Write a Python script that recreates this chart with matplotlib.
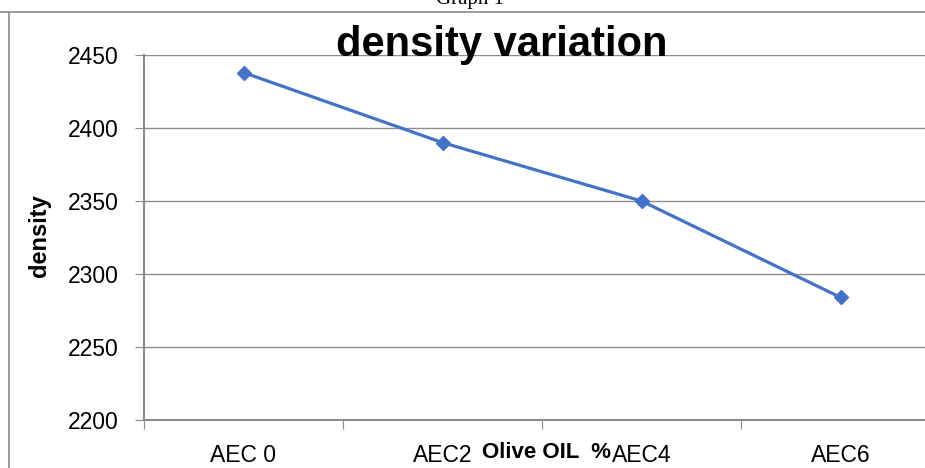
import matplotlib.pyplot as plt
from matplotlib.lines import Line2D

# olive oil mixes and measured density
mixes = ["AEC 0", "AEC2", "AEC4", "AEC6"]
density = [2438, 2390, 2350, 2284]
yticks = [2200, 2250, 2300, 2350, 2400, 2450]

plt.rcParams['font.family'] = ["Liberation Sans", "DejaVu Sans"]

fig = plt.figure(figsize=(9.25, 4.68), dpi=100)
# plot area runs past the right edge of the picture, like the cropped original
ax = fig.add_axes([144 / 925, 1 - 420 / 468, 796 / 925, 365 / 468])

x = list(range(len(mixes)))
ax.plot(x, density, color="#4472C4", lw=2.3, marker="D", ms=7,
        markerfacecolor="#4472C4", markeredgecolor="#4472C4", zorder=3)

ax.set_xlim(-0.5, 3.5)
ax.set_ylim(2200, 2450)
ax.set_yticks(yticks)
ax.set_yticklabels([str(v) for v in yticks], fontsize=16.5)
ax.grid(axis="y", color="#8c8c8c", lw=1)
ax.set_axisbelow(True)

# category labels between the boundary ticks
ax.set_xticks([-0.5, 0.5, 1.5, 2.5, 3.5])
ax.set_xticklabels([])
ax.set_xticks(x, minor=True)
ax.set_xticklabels(mixes, minor=True, fontsize=16.5)
ax.tick_params(axis="x", which="minor", length=0, pad=17)
ax.tick_params(axis="x", which="major", length=6.5, color="#8c8c8c")
ax.tick_params(axis="y", length=6.5, color="#8c8c8c", pad=12)

for side in ["top", "right"]:
    ax.spines[side].set_visible(False)
for side in ["left", "bottom"]:
    ax.spines[side].set_color("#8c8c8c")
    ax.spines[side].set_linewidth(1.5)

fig.text(40 / 925, 1 - 236 / 468, "density", fontsize=17, fontweight="bold",
         rotation=90, ha="center", va="center")
fig.text(546 / 925, 1 - 453 / 468, "Olive OIL  %", fontsize=16,
         fontweight="bold", ha="center", va="center")
fig.text(502 / 925, 1 - 45 / 468, "density variation", fontsize=30,
         fontweight="bold", ha="center", va="center")
fig.text(470 / 925, 1 - 4 / 468, "Graph 1", fontsize=15, ha="center", va="baseline",
         family=["Liberation Serif", "DejaVu Serif"])

# borders of the surrounding frame
fig.add_artist(Line2D([0, 1], [1 - 12 / 468, 1 - 12 / 468], color="#8c8c8c", lw=1.2))
fig.add_artist(Line2D([9 / 925, 9 / 925], [0, 1 - 12 / 468], color="#8c8c8c", lw=1.2))

fig.savefig("out.png", dpi=100)
